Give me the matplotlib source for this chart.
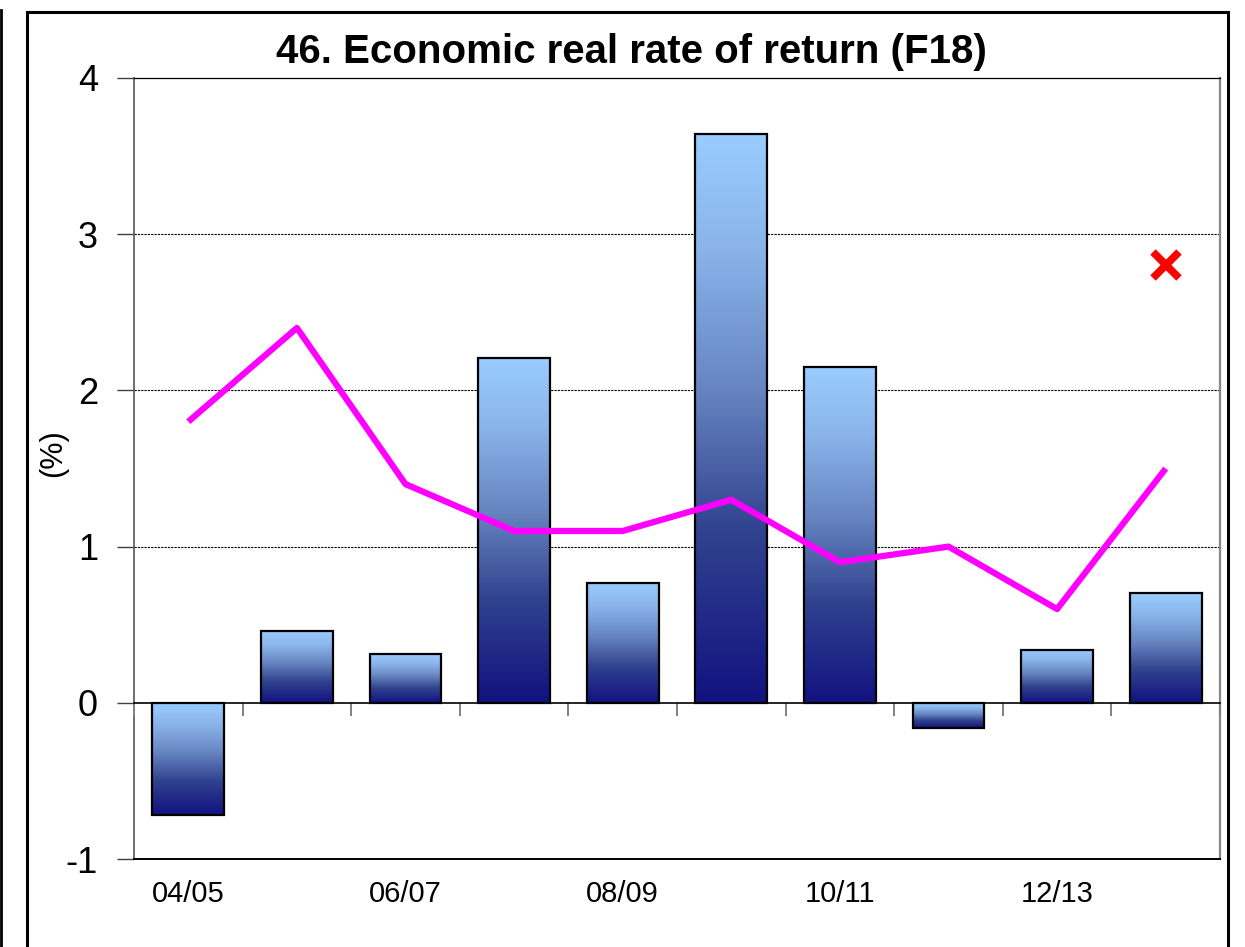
import numpy as np
import matplotlib
matplotlib.use("Agg")
import matplotlib.pyplot as plt
from matplotlib.colors import LinearSegmentedColormap
from matplotlib.patches import Rectangle
from matplotlib.lines import Line2D

plt.rcParams['font.family'] = ['Liberation Sans', 'DejaVu Sans']

# data
years = ['04/05', '05/06', '06/07', '07/08', '08/09', '09/10', '10/11', '11/12', '12/13', '13/14']
bar_values = [-0.72, 0.46, 0.31, 2.21, 0.77, 3.64, 2.15, -0.16, 0.34, 0.70]
line_values = [1.8, 2.4, 1.4, 1.1, 1.1, 1.3, 0.9, 1.0, 0.6, 1.5]
target_index = 9
target_value = 2.8

W, H = 1245, 947
fig = plt.figure(figsize=(W / 100, H / 100), dpi=100)

# outer frames
fig.add_artist(Line2D([1 / W, 1 / W], [0, 1 - 10 / H], transform=fig.transFigure, color='black', lw=2))
fig.add_artist(Rectangle((27 / W, -0.05), (1228 - 27) / W, 1.05 - 12 / H, transform=fig.transFigure,
                         fill=False, edgecolor='black', lw=2.2))

ax = fig.add_axes([134 / W, 1 - 859 / H, (1220 - 134) / W, (859 - 78) / H])

x = np.arange(len(years))
width = 0.66
cmap = LinearSegmentedColormap.from_list(
    'bluegrad', [(0, '#121280'), (0.3, '#30428e'), (0.55, '#6684c0'), (0.8, '#8ab4ea'), (1, '#99ccff')])
grad = np.linspace(0, 1, 256).reshape(-1, 1)

for xi, v in zip(x, bar_values):
    lo, hi = min(0, v), max(0, v)
    ax.imshow(grad, cmap=cmap, origin='lower', aspect='auto',
              extent=[xi - width / 2, xi + width / 2, lo, hi], zorder=2)
ax.bar(x, bar_values, width=width, facecolor='none', edgecolor='black', lw=1.6, zorder=3)

ax.plot(x, line_values, color='#ff00ff', lw=4.5, zorder=4, solid_capstyle='butt')
ax.plot([x[target_index]], [target_value], marker='x', color='red', markersize=19, mew=5.5,
        linestyle='none', zorder=5)

ax.set_xlim(-0.5, len(years) - 0.5)
ax.set_ylim(-1, 4)
ax.set_yticks([-1, 0, 1, 2, 3, 4])
ax.set_yticklabels(['-1', '0', '1', '2', '3', '4'])
ax.tick_params(axis='y', length=12, width=1, color='#404040', pad=14, labelsize=26)

ax.set_xticks(x[::2])
ax.set_xticklabels(years[::2])
ax.tick_params(axis='x', length=0, pad=15, labelsize=21)

for gy in [1, 2, 3]:
    ax.axhline(gy, color='black', lw=0.8, linestyle=(0, (2, 1)), zorder=1)

ax.spines['top'].set_linestyle((0, (2, 1)))
ax.spines['top'].set_linewidth(0.9)
ax.spines['right'].set_color('#888888')
ax.spines['right'].set_linewidth(1.6)
ax.spines['left'].set_color('#555555')
ax.spines['left'].set_linewidth(1.2)
ax.spines['bottom'].set_linewidth(1.4)

# category axis crossing at zero
sec = ax.secondary_xaxis(0.2)
sec.set_xticks(np.arange(len(years) + 1) - 0.5)
sec.set_xticklabels([])
sec.tick_params(axis='x', direction='out', length=9, width=1.4, color='#808080')
sec.spines['bottom'].set_linewidth(1.2)
sec.set_zorder(6)

ax.set_ylabel('(%)', fontsize=22)
ax.yaxis.set_label_coords((68 - 134) / 1086, (859 - 453) / 781)

fig.text(631 / W, 1 - 52 / H, '46. Economic real rate of return (F18)', ha='center', va='center',
         fontsize=29, fontweight='bold')

fig.savefig('out.png', dpi=100)
